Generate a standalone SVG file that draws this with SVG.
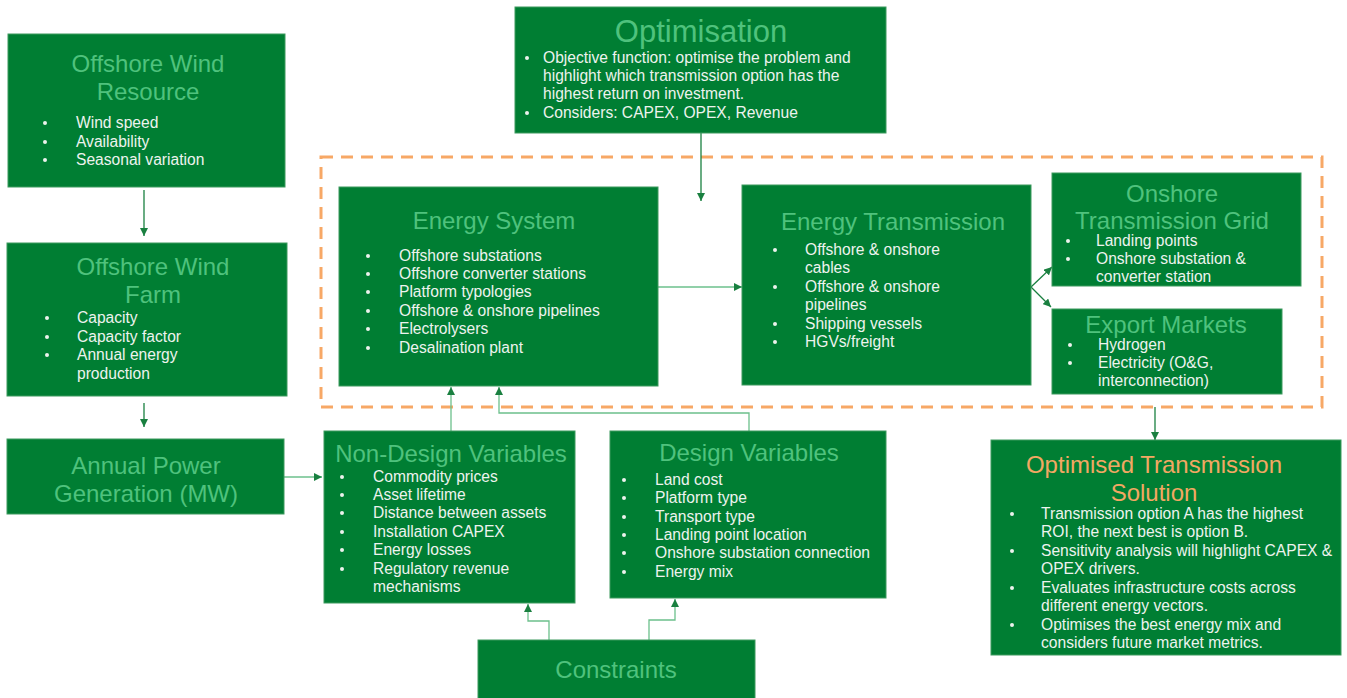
<svg xmlns="http://www.w3.org/2000/svg" width="1347" height="698" viewBox="0 0 1347 698">
  <style>
    .box { fill: #007E33; stroke: #3C9A5F; stroke-width: 1; }
    .title { font-family: "Liberation Sans", Arial, sans-serif; font-size: 24px; fill: #4FC27D; text-anchor: middle; }
    .otitle { font-family: "Liberation Sans", Arial, sans-serif; font-size: 24px; fill: #F2A863; text-anchor: middle; }
    .body { font-family: "Liberation Sans", Arial, sans-serif; font-size: 15.6px; fill: #EDF3EE; }
    .dot { fill: #EDF3EE; }
    .conn { fill: none; stroke: #1A8040; stroke-width: 1.3; }
    .conn-light { fill: none; stroke: #6CC08C; stroke-width: 1.3; }
    .frame { fill: none; stroke: #F7A866; stroke-width: 3; stroke-dasharray: 12 8; }
  </style>
  <defs>
    <marker id="arrow" viewBox="0 0 10 10" refX="10" refY="5" markerWidth="8" markerHeight="8" markerUnits="userSpaceOnUse" orient="auto">
      <path d="M0,0 L10,5 L0,10 z" fill="#1A8040"/>
    </marker>
  </defs>

  <rect width="1347" height="698" fill="#FFFFFF"/>

  <!-- dashed system boundary -->
  <rect class="frame" x="321" y="157" width="1001" height="250"/>

  <!-- connectors -->
  <g id="connectors">
    <path class="conn" d="M144,190 V236" marker-end="url(#arrow)"/>
    <path class="conn" d="M144,403 V427" marker-end="url(#arrow)"/>
    <path class="conn-light" d="M284,477 H322" marker-end="url(#arrow)"/>
    <path class="conn" d="M701,133 V201" marker-end="url(#arrow)"/>
    <path class="conn-light" d="M658,287 H742" marker-end="url(#arrow)"/>
    <path class="conn" d="M1031,287 L1052,267" marker-end="url(#arrow)"/>
    <path class="conn" d="M1031,287 L1051,307" marker-end="url(#arrow)"/>
    <path class="conn" d="M1155,407 V440" marker-end="url(#arrow)"/>
    <path class="conn-light" d="M451,431 V387" marker-end="url(#arrow)"/>
    <path class="conn-light" d="M749,431 V413 H499 V387" marker-end="url(#arrow)"/>
    <path class="conn-light" d="M549,640 V621 H528 V604" marker-end="url(#arrow)"/>
    <path class="conn-light" d="M649,640 V620 H675 V599" marker-end="url(#arrow)"/>
  </g>

  <!-- Offshore Wind Resource -->
  <g id="offshore-wind-resource">
    <rect class="box" x="8" y="34" width="277" height="153"/>
    <text class="title" x="148" y="72">Offshore Wind</text>
    <text class="title" x="148" y="100">Resource</text>
    <circle class="dot" cx="45" cy="123" r="2"/>
    <circle class="dot" cx="45" cy="142" r="2"/>
    <circle class="dot" cx="45" cy="160" r="2"/>
    <text class="body" x="76" y="128">Wind speed</text>
    <text class="body" x="76" y="147">Availability</text>
    <text class="body" x="76" y="165">Seasonal variation</text>
  </g>

  <!-- Offshore Wind Farm -->
  <g id="offshore-wind-farm">
    <rect class="box" x="7" y="243" width="280" height="153"/>
    <text class="title" x="153" y="275">Offshore Wind</text>
    <text class="title" x="153" y="303">Farm</text>
    <circle class="dot" cx="47" cy="318" r="2"/>
    <circle class="dot" cx="47" cy="337" r="2"/>
    <circle class="dot" cx="47" cy="355" r="2"/>
    <text class="body" x="77" y="323">Capacity</text>
    <text class="body" x="77" y="342">Capacity factor</text>
    <text class="body" x="77" y="360">Annual energy</text>
    <text class="body" x="77" y="379">production</text>
  </g>

  <!-- Annual Power Generation -->
  <g id="annual-power-generation">
    <rect class="box" x="7" y="439" width="277" height="75"/>
    <text class="title" x="146" y="474">Annual Power</text>
    <text class="title" x="146" y="502">Generation (MW)</text>
  </g>

  <!-- Optimisation -->
  <g id="optimisation">
    <rect class="box" x="515" y="7" width="371" height="126"/>
    <text class="title" font-size="31" x="701" y="42" style="font-size:31px">Optimisation</text>
    <circle class="dot" cx="527" cy="58" r="2"/>
    <circle class="dot" cx="527" cy="113" r="2"/>
    <text class="body" x="543" y="63">Objective function: optimise the problem and</text>
    <text class="body" x="543" y="81">highlight which transmission option has the</text>
    <text class="body" x="543" y="99">highest return on investment.</text>
    <text class="body" x="543" y="118">Considers: CAPEX, OPEX, Revenue</text>
  </g>

  <!-- Energy System -->
  <g id="energy-system">
    <rect class="box" x="339" y="187" width="319" height="199"/>
    <text class="title" x="494" y="229">Energy System</text>
    <circle class="dot" cx="368" cy="256" r="2"/>
    <circle class="dot" cx="368" cy="274" r="2"/>
    <circle class="dot" cx="368" cy="292" r="2"/>
    <circle class="dot" cx="368" cy="311" r="2"/>
    <circle class="dot" cx="368" cy="329" r="2"/>
    <circle class="dot" cx="368" cy="348" r="2"/>
    <text class="body" x="399" y="261">Offshore substations</text>
    <text class="body" x="399" y="279">Offshore converter stations</text>
    <text class="body" x="399" y="297">Platform typologies</text>
    <text class="body" x="399" y="316">Offshore &amp; onshore pipelines</text>
    <text class="body" x="399" y="334">Electrolysers</text>
    <text class="body" x="399" y="353">Desalination plant</text>
  </g>

  <!-- Energy Transmission -->
  <g id="energy-transmission">
    <rect class="box" x="742" y="185" width="289" height="200"/>
    <text class="title" x="893" y="230">Energy Transmission</text>
    <circle class="dot" cx="775" cy="250" r="2"/>
    <circle class="dot" cx="775" cy="287" r="2"/>
    <circle class="dot" cx="775" cy="324" r="2"/>
    <circle class="dot" cx="775" cy="342" r="2"/>
    <text class="body" x="805" y="255">Offshore &amp; onshore</text>
    <text class="body" x="805" y="273">cables</text>
    <text class="body" x="805" y="292">Offshore &amp; onshore</text>
    <text class="body" x="805" y="310">pipelines</text>
    <text class="body" x="805" y="329">Shipping vessels</text>
    <text class="body" x="805" y="347">HGVs/freight</text>
  </g>

  <!-- Onshore Transmission Grid -->
  <g id="onshore-transmission-grid">
    <rect class="box" x="1052" y="173" width="249" height="113"/>
    <text class="title" x="1172" y="202">Onshore</text>
    <text class="title" x="1172" y="229">Transmission Grid</text>
    <circle class="dot" cx="1068" cy="241" r="2"/>
    <circle class="dot" cx="1068" cy="259" r="2"/>
    <text class="body" x="1096" y="246">Landing points</text>
    <text class="body" x="1096" y="264">Onshore substation &amp;</text>
    <text class="body" x="1096" y="282">converter station</text>
  </g>

  <!-- Export Markets -->
  <g id="export-markets">
    <rect class="box" x="1052" y="309" width="230" height="85"/>
    <text class="title" x="1166" y="333">Export Markets</text>
    <circle class="dot" cx="1070" cy="345" r="2"/>
    <circle class="dot" cx="1070" cy="363" r="2"/>
    <text class="body" x="1098" y="350">Hydrogen</text>
    <text class="body" x="1098" y="368">Electricity (O&amp;G,</text>
    <text class="body" x="1098" y="386">interconnection)</text>
  </g>

  <!-- Optimised Transmission Solution -->
  <g id="optimised-transmission-solution">
    <rect class="box" x="991" y="440" width="350" height="215"/>
    <text class="otitle" x="1154" y="473">Optimised Transmission</text>
    <text class="otitle" x="1154" y="501">Solution</text>
    <circle class="dot" cx="1012" cy="514" r="2"/>
    <circle class="dot" cx="1012" cy="551" r="2"/>
    <circle class="dot" cx="1012" cy="588" r="2"/>
    <circle class="dot" cx="1012" cy="625" r="2"/>
    <text class="body" x="1041" y="519">Transmission option A has the highest</text>
    <text class="body" x="1041" y="537">ROI, the next best is option B.</text>
    <text class="body" x="1041" y="556">Sensitivity analysis will highlight CAPEX &amp;</text>
    <text class="body" x="1041" y="574">OPEX drivers.</text>
    <text class="body" x="1041" y="593">Evaluates infrastructure costs across</text>
    <text class="body" x="1041" y="611">different energy vectors.</text>
    <text class="body" x="1041" y="630">Optimises the best energy mix and</text>
    <text class="body" x="1041" y="648">considers future market metrics.</text>
  </g>

  <!-- Non-Design Variables -->
  <g id="non-design-variables">
    <rect class="box" x="324" y="431" width="251" height="172"/>
    <text class="title" x="451" y="462">Non-Design Variables</text>
    <circle class="dot" cx="342" cy="477" r="2"/>
    <circle class="dot" cx="342" cy="495" r="2"/>
    <circle class="dot" cx="342" cy="513" r="2"/>
    <circle class="dot" cx="342" cy="532" r="2"/>
    <circle class="dot" cx="342" cy="550" r="2"/>
    <circle class="dot" cx="342" cy="569" r="2"/>
    <text class="body" x="373" y="482">Commodity prices</text>
    <text class="body" x="373" y="500">Asset lifetime</text>
    <text class="body" x="373" y="518">Distance between assets</text>
    <text class="body" x="373" y="537">Installation CAPEX</text>
    <text class="body" x="373" y="555">Energy losses</text>
    <text class="body" x="373" y="574">Regulatory revenue</text>
    <text class="body" x="373" y="592">mechanisms</text>
  </g>

  <!-- Design Variables -->
  <g id="design-variables">
    <rect class="box" x="610" y="431" width="276" height="167"/>
    <text class="title" x="749" y="461">Design Variables</text>
    <circle class="dot" cx="624" cy="480" r="2"/>
    <circle class="dot" cx="624" cy="498" r="2"/>
    <circle class="dot" cx="624" cy="517" r="2"/>
    <circle class="dot" cx="624" cy="535" r="2"/>
    <circle class="dot" cx="624" cy="553" r="2"/>
    <circle class="dot" cx="624" cy="572" r="2"/>
    <text class="body" x="655" y="485">Land cost</text>
    <text class="body" x="655" y="503">Platform type</text>
    <text class="body" x="655" y="522">Transport type</text>
    <text class="body" x="655" y="540">Landing point location</text>
    <text class="body" x="655" y="558">Onshore substation connection</text>
    <text class="body" x="655" y="577">Energy mix</text>
  </g>

  <!-- Constraints -->
  <g id="constraints">
    <rect class="box" x="478" y="640" width="277" height="62"/>
    <text class="title" x="616" y="678">Constraints</text>
  </g>
</svg>
